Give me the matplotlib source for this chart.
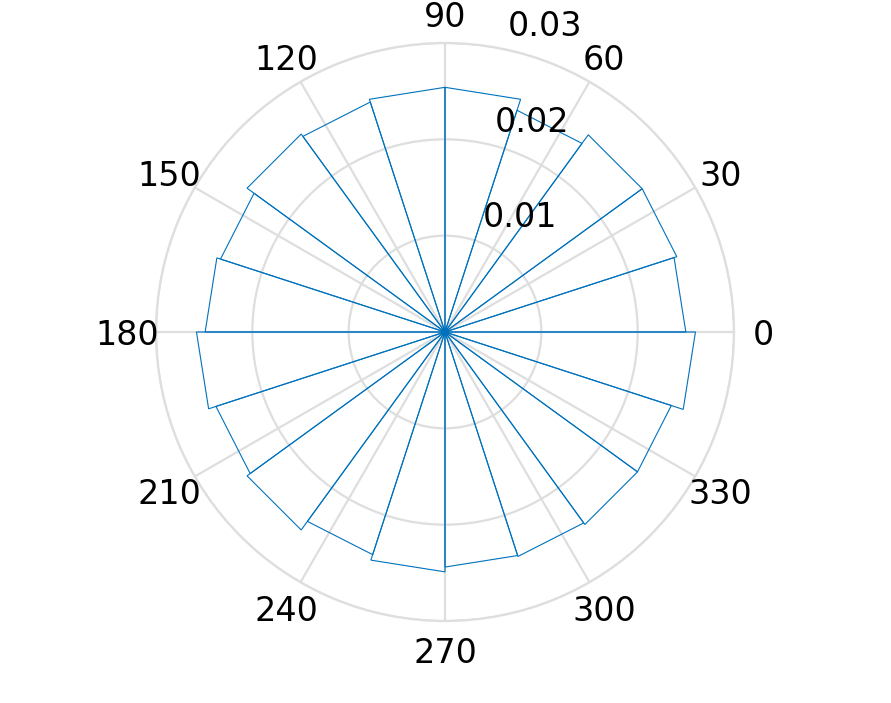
import numpy as np
import matplotlib
matplotlib.use("Agg")
import matplotlib.pyplot as plt
import matplotlib.transforms as mtransforms

# polar histogram, 20 bins of 18 deg
bin_edges_deg = np.arange(0, 361, 18)
bin_values = [0.0250, 0.0253, 0.0253, 0.0242, 0.0254,
              0.0254, 0.0251, 0.0254, 0.0245, 0.0249,
              0.0258, 0.0250, 0.0254, 0.0243, 0.0249,
              0.0244, 0.0245, 0.0247, 0.0247, 0.0260]
theta_ticks = np.arange(0, 360, 30)
theta_labels = [str(t) for t in theta_ticks]
r_ticks = [0.01, 0.02, 0.03]
r_labels = ["0.01", "0.02", "0.03"]

line_col = "#0072BD"
grid_col = "#dedede"
fs = 24

fig = plt.figure(figsize=(8.91, 7.03), dpi=100)
ax = fig.add_axes([156 / 891, 82 / 703, 578 / 891, 578 / 703], projection="polar")
ax.set_axisbelow(True)

# stairs-style outline: spoke out, straight outer edge, spoke back
for i, v in enumerate(bin_values):
    a0 = np.deg2rad(bin_edges_deg[i])
    a1 = np.deg2rad(bin_edges_deg[i + 1])
    ax.plot([a0, a0, a1, a1], [0, v, v, 0], color=line_col, lw=0.8,
            solid_joinstyle="miter")

ax.set_ylim(0, 0.03)
ax.set_yticks(r_ticks)
ax.set_yticklabels([])
ax.set_xticks(np.deg2rad(theta_ticks))
ax.set_xticklabels([])
ax.grid(True, color=grid_col, lw=1.6)
ax.spines["polar"].set_color(grid_col)
ax.spines["polar"].set_linewidth(1.6)

# angle labels just outside the rim (nudged down so the digits sit centred)
toff = mtransforms.offset_copy(ax.transData, fig=fig, x=0, y=-3.7, units="dots")
for t, lab in zip(theta_ticks, theta_labels):
    ax.text(np.deg2rad(t), 0.0330, lab, ha="center", va="center",
            fontsize=fs, transform=toff, clip_on=False)

# radius labels along ~82.5 deg, shifted a bit right/up
off = mtransforms.offset_copy(ax.transData, fig=fig, x=24.7, y=9.3, units="dots")
for r, lab in zip(r_ticks, r_labels):
    ax.text(np.deg2rad(82.5), r, lab, ha="left", va="baseline",
            fontsize=fs, transform=off, clip_on=False)

fig.savefig("out.png", dpi=100)
